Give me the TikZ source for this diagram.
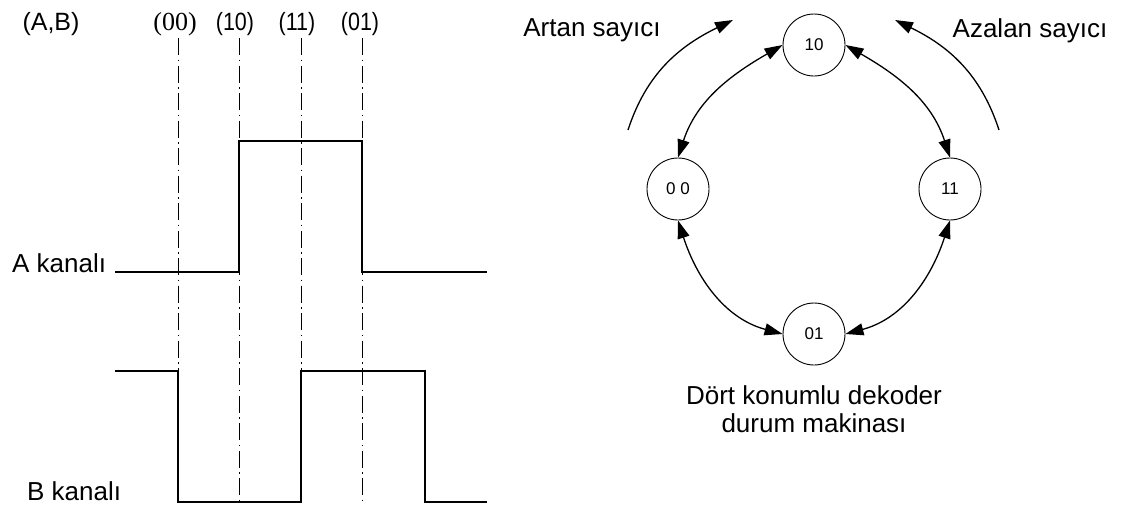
\documentclass[tikz,border=0pt]{standalone}
\usepackage{fontspec}
\setmainfont{Liberation Sans}
\newfontfamily\seriffont{Liberation Serif}
\newfontfamily\narrowfont[FakeStretch=0.86]{Liberation Sans}
\usetikzlibrary{arrows.meta}
\begin{document}
\begin{tikzpicture}[x=1pt,y=1pt,
  lbl/.style={font=\fontsize{26}{30}\selectfont, inner sep=0pt},
  hdr/.style={font=\narrowfont\fontsize{25}{29}\selectfont, inner sep=0pt, anchor=base},
  state/.style={circle, draw, line width=0.9pt, minimum size=62pt, inner sep=0pt, font=\fontsize{17}{20}\selectfont},
  wave/.style={line width=1.4pt, line join=miter},
  guide/.style={line width=1pt, dash pattern=on 17pt off 4.5pt on 1.5pt off 4.5pt},
  cyc/.style={line width=1.3pt, -{Triangle[length=18pt,width=12pt]}},
  dbl/.style={line width=1.3pt, {Triangle[length=18pt,width=12pt]}-{Triangle[length=18pt,width=12pt]}}
]
\useasboundingbox (0,0) rectangle (1121,-509);

% guide lines
\foreach \x in {178,239,301,362} \draw[guide] (\x,-38) -- (\x,-502);

% waveforms
\draw[wave] (115,-272) -- (239,-272) -- (239,-141) -- (362,-141) -- (362,-272) -- (487,-272);
\draw[wave] (115,-371) -- (178,-371) -- (178,-502) -- (301,-502) -- (301,-371) -- (425,-371) -- (425,-502) -- (487,-502);

% labels
\node[lbl, anchor=base west] (achan) at (12,-272) {A kanalı};
\node[lbl, anchor=base west] (bchan) at (27,-500) {B kanalı};
\node[hdr, font=\fontsize{25}{29}\selectfont] (ab) at (51,-30) {(A,B)};
\node[hdr, font=\seriffont\fontsize{26}{30}\selectfont] (h00) at (175,-30) {(00)};
\node[hdr] (h10) at (235,-30) {(10)};
\node[hdr] (h11) at (297,-30) {(11)};
\node[hdr] (h01) at (360,-30) {(01)};

% states
\node[state] (s10) at (814,-45) {10};
\node[state] (s00) at (678,-189) {0 0};
\node[state] (s11) at (950,-189) {11};
\node[state] (s01) at (814,-334) {01};

\draw[dbl] (s10.west) to[out=210,in=72] (s00.north);
\draw[dbl] (s10.east) to[out=-30,in=108] (s11.north);
\draw[dbl] (s00.south) to[out=-72,in=165] (s01.west);
\draw[dbl] (s11.south) to[out=252,in=15] (s01.east);

% counting direction arrows
\coordinate (upA0) at (628,-130);
\coordinate (upA1) at (733,-20);
\draw[cyc] (upA0) to[out=72,in=206] (upA1);
\coordinate (upB0) at (999,-130);
\coordinate (upB1) at (895,-20);
\draw[cyc] (upB0) to[out=108,in=-26] (upB1);

\node[lbl, anchor=base] (artan) at (592,-36) {Artan sayıcı};
\node[lbl, anchor=base] (azalan) at (1030,-37) {Azalan sayıcı};
\node[lbl, anchor=base] (dek1) at (814,-404) {Dört konumlu dekoder};
\node[lbl, anchor=base] (dek2) at (814,-432) {durum makinası};
\end{tikzpicture}
\end{document}
